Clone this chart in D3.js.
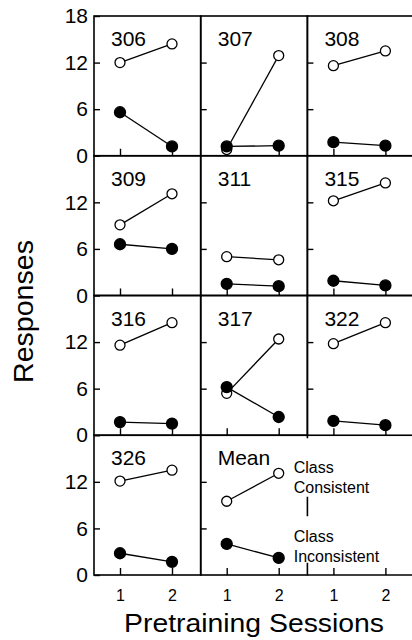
<!DOCTYPE html>
<html>
<head>
<meta charset="utf-8">
<script src="https://cdn.jsdelivr.net/npm/d3@7"></script>
<style>
  body { margin: 0; background: #fff; }
  svg { display: block; font-family: "Liberation Sans", Arial, sans-serif; }
</style>
</head>
<body>
<svg class="chart"></svg>
<script>
// panel names, in reading order (3 per row)
const subjects = ['306', '307', '308', '309', '311', '315', '316', '317', '322', '326', 'Mean'];
const sessions = [1, 2];
// responses per session [session 1, session 2]
const classConsistent = [
  [12.0, 14.4], [0.8, 12.9], [11.6, 13.5],
  [9.1, 13.1], [5.0, 4.6], [12.2, 14.5],
  [11.6, 14.5], [5.4, 12.4], [11.8, 14.5],
  [12.1, 13.5], [9.5, 13.1],
];
const classInconsistent = [
  [5.6, 1.2], [1.2, 1.3], [1.75, 1.3],
  [6.6, 6.0], [1.5, 1.2], [1.9, 1.3],
  [1.7, 1.5], [6.2, 2.35], [1.85, 1.3],
  [2.8, 1.7], [4.0, 2.2],
];
const yTicks = [0, 6, 12, 18];
const legendLines = [['Class', 'Consistent'], ['Class', 'Inconsistent']];

const width = 412;
const height = 640;
const padLeft = 94;
const padTop = 16;
const pw = 106.7;
const ph = 139.75;
const cols = 3;
const rows = 4;

const svg = d3.select('.chart')
  .attr('width', width)
  .attr('height', height);

const x = d3.scaleLinear().domain([1, 2]).range([26, 78]);
const y = d3.scaleLinear().domain([0, 18]).range([ph, 0]);

const line = d3.line()
  .x((d, i) => x(sessions[i]))
  .y(d => y(d));

// 12 cells, the last one is empty and holds the legend
d3.range(cols * rows).forEach((idx) => {
  const col = idx % cols;
  const row = Math.floor(idx / cols);
  const g = svg.append('g')
    .attr('transform', `translate(${padLeft + col * pw},${padTop + row * ph})`);

  // bottom axis
  const xAxis = d3.axisBottom(x)
    .tickValues(sessions)
    .tickSizeInner(-7)
    .tickSizeOuter(0)
    .tickPadding(15)
    .tickFormat(row === rows - 1 ? d3.format('d') : '');
  g.append('g')
    .attr('transform', `translate(0,${ph})`)
    .call(xAxis)
    .call(a => a.select('.domain').remove())
    .call(a => a.selectAll('line').attr('stroke-width', 1.4))
    .call(a => a.selectAll('text')
      .attr('font-size', 16)
      .attr('font-family', null)
      .attr('fill', '#000'));

  if (idx < subjects.length) {
    const yAxis = d3.axisLeft(y)
      .tickValues(col === 0 ? yTicks.filter(t => t < 18 || row === 0) : [6, 12])
      .tickSizeInner(-6)
      .tickSizeOuter(0)
      .tickPadding(6)
      .tickFormat(col === 0 ? d3.format('d') : '');
    g.append('g')
      .call(yAxis)
      .call(a => a.select('.domain').remove())
      .call(a => a.selectAll('line').attr('stroke-width', 1.4))
      .call(a => a.selectAll('text')
        .attr('font-size', 21)
        .attr('font-family', null)
        .attr('fill', '#000'));

    // panel border
    g.append('rect')
      .attr('width', pw)
      .attr('height', ph)
      .attr('fill', 'none')
      .attr('stroke', '#000')
      .attr('stroke-width', 1.6);

    g.append('text')
      .attr('x', 17)
      .attr('y', 30)
      .attr('font-size', 21)
      .text(subjects[idx]);

    [classConsistent, classInconsistent].forEach((series, s) => {
      const vals = series[idx];
      g.append('path')
        .attr('d', line(vals))
        .attr('fill', 'none')
        .attr('stroke', '#000')
        .attr('stroke-width', 1.3);
      g.selectAll(null)
        .data(vals)
        .enter()
        .append('circle')
        .attr('cx', (d, i) => x(sessions[i]))
        .attr('cy', d => y(d))
        .attr('r', s === 0 ? 5 : 5.5)
        .attr('fill', s === 0 ? '#fff' : '#000')
        .attr('stroke', '#000')
        .attr('stroke-width', 1.3);
    });
  } else {
    // empty cell: only bottom edge and right side
    g.append('line')
      .attr('x1', 0).attr('x2', pw)
      .attr('y1', ph).attr('y2', ph)
      .attr('stroke', '#000')
      .attr('stroke-width', 1.6);
    g.append('line')
      .attr('x1', pw).attr('x2', pw)
      .attr('y1', 0).attr('y2', ph)
      .attr('stroke', '#000')
      .attr('stroke-width', 1.6);
  }
});

// legend, sitting over the divider between Mean and the empty cell
const legX = padLeft + pw + 93;
const legTop = padTop + 3 * ph;
const legY = [38, 107];
legendLines.forEach((lines, k) => {
  const lg = svg.append('g');
  const bg = lg.append('rect').attr('fill', '#fff');
  const t = lg.append('text')
    .attr('x', legX)
    .attr('y', legTop + legY[k])
    .attr('font-size', 16);
  lines.forEach((txt, j) => {
    t.append('tspan')
      .attr('x', legX)
      .attr('dy', j === 0 ? 0 : 19.5)
      .text(txt);
  });
  const bb = t.node().getBBox();
  const y0 = k === 0 ? legTop + 3 : bb.y - 12;
  const y1 = k === 0 ? bb.y + bb.height + 1 : bb.y + bb.height - 2;
  bg.attr('x', bb.x - 3)
    .attr('y', y0)
    .attr('width', bb.width + 6)
    .attr('height', y1 - y0);
});

svg.append('text')
  .attr('x', padLeft + 1.5 * pw)
  .attr('y', 632)
  .attr('text-anchor', 'middle')
  .attr('font-size', 25)
  .attr('textLength', 260)
  .attr('lengthAdjust', 'spacingAndGlyphs')
  .text('Pretraining Sessions');

svg.append('text')
  .attr('transform', `translate(33,${padTop + 2 * ph + 16}) rotate(-90)`)
  .attr('text-anchor', 'middle')
  .attr('font-size', 27)
  .attr('textLength', 143)
  .attr('lengthAdjust', 'spacingAndGlyphs')
  .text('Responses');
</script>
</body>
</html>
